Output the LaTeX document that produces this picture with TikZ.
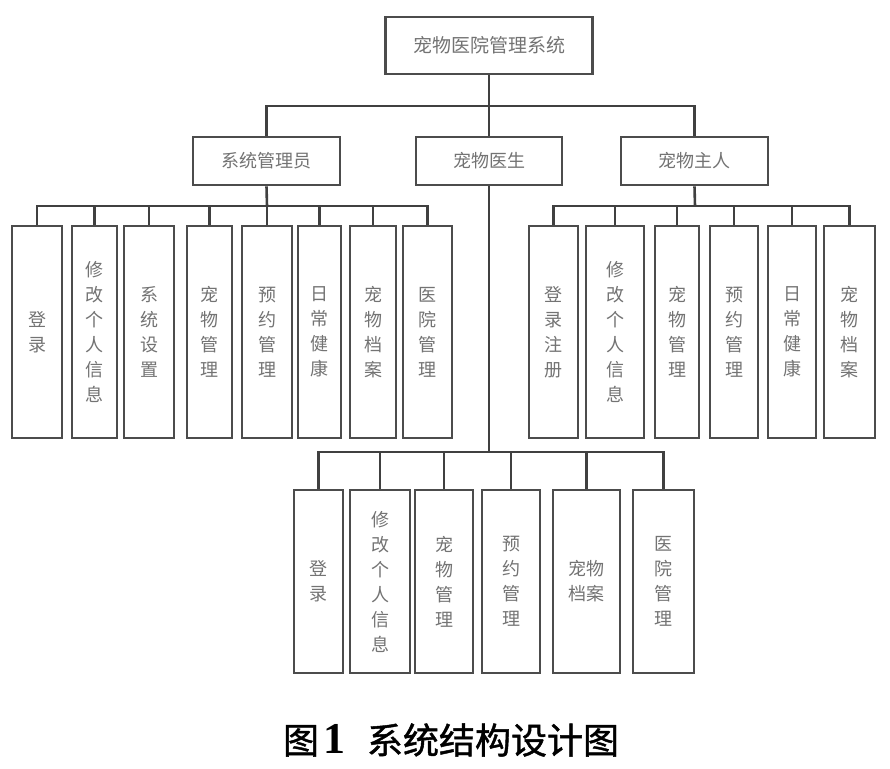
\documentclass[tikz,border=0pt]{standalone}
\usepackage{fontspec}
\newfontfamily\cjk{Noto Sans CJK SC}
\newfontfamily\capfont[FakeBold=1.2]{Noto Sans CJK SC}
\newfontfamily\numfont{Liberation Serif}
\usepackage{xcolor}
\usepackage{tikz}

\tikzset{
  box/.style={draw=black!70, line width=2.6pt, text=black!55, inner sep=0pt, align=center,
    font=\cjk\fontsize{18}{25}\selectfont},
  link/.style={draw=black!75, line width=2.6pt},
}

\begin{document}
\begin{tikzpicture}[x=1pt,y=-1pt]
      \useasboundingbox[fill=white] (0,0) rectangle (890,768);
      % top levels
      \node[box, minimum width=207pt, minimum height=57pt,
        font=\cjk\fontsize{19}{25}\selectfont] (sys) at (489,45.5) {宠物医院管理系统};
      \node[box, minimum width=147pt, minimum height=48pt] (admin) at (266.5,161) {系统管理员};
      \node[box, minimum width=146pt, minimum height=48pt] (doctor) at (489,161) {宠物医生};
      \node[box, minimum width=147pt, minimum height=48pt] (owner) at (694.5,161) {宠物主人};
      \coordinate (topbar) at (489,106);
      \draw[link] (sys.south) -- (doctor.north);
      \draw[link] (admin.north) |- (topbar) -| (owner.north);
      % admin
      \coordinate (abar) at (267,206);
      \draw[link] (admin.south) -- (abar);
      \foreach \i/\xl/\xr/\txt in {1/12/62/{登\\录}, 2/72/117/{修\\改\\个\\人\\信\\息},
          3/124/174/{系\\统\\设\\置}, 4/187/232/{宠\\物\\管\\理}, 5/242/292/{预\\约\\管\\理},
          6/298/341/{日\\常\\健\\康}, 7/350/396/{宠\\物\\档\\案}, 8/403/452/{医\\院\\管\\理}} {
        \node[box, minimum width={(\xr-\xl)*1pt}, minimum height=212pt]
          (a\i) at ({(\xl+\xr)/2},332) {\txt};
        \draw[link] (a\i.north) |- (abar);
      }
      % owner
      \coordinate (obar) at (695,206);
      \draw[link] (owner.south) -- (obar);
      \foreach \i/\xl/\xr/\txt in {1/529/578/{登\\录\\注\\册}, 2/586/644/{修\\改\\个\\人\\信\\息},
          3/655/699/{宠\\物\\管\\理}, 4/710/758/{预\\约\\管\\理},
          5/768/816/{日\\常\\健\\康}, 6/824/875/{宠\\物\\档\\案}} {
        \node[box, minimum width={(\xr-\xl)*1pt}, minimum height=212pt]
          (o\i) at ({(\xl+\xr)/2},332) {\txt};
        \draw[link] (o\i.north) |- (obar);
      }
      % doctor
      \coordinate (dbar) at (489,452);
      \draw[link] (doctor.south) -- (dbar);
      \foreach \i/\xl/\xr/\txt in {1/294/343/{登\\录}, 2/350/410/{修\\改\\个\\人\\信\\息},
          3/415/473/{宠\\物\\管\\理}, 4/482/540/{预\\约\\管\\理},
          5/553/620/{宠物\\档案}, 6/633/694/{医\\院\\管\\理}} {
        \node[box, minimum width={(\xr-\xl)*1pt}, minimum height=183pt]
          (d\i) at ({(\xl+\xr)/2},581.5) {\txt};
        \draw[link] (d\i.north) |- (dbar);
      }
      % caption
      \node[font=\fontsize{36}{40}\selectfont, inner sep=0pt] (caption) at (451,740)
        {{\capfont 图}\hspace{4pt}{\numfont\bfseries\fontsize{44}{40}\selectfont 1}\hspace{22pt}{\capfont 系统结构设计图}};
\end{tikzpicture}
\end{document}
